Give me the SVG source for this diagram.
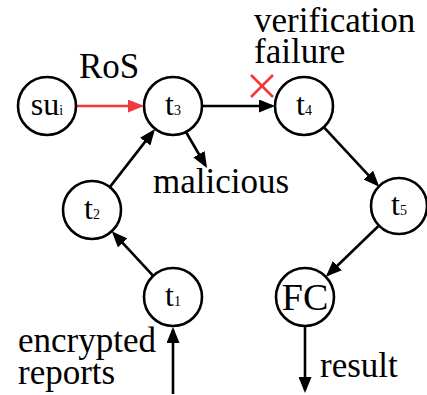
<svg xmlns="http://www.w3.org/2000/svg" width="427" height="395" viewBox="0 0 427 395">
<style>
.node circle{fill:#fff;stroke:#000;stroke-width:2.6}
.lbl{font-family:'Liberation Serif','Times New Roman',serif;font-size:32px;fill:#000}
.sub{font-size:14px}
.txt{font-family:'Liberation Serif','Times New Roman',serif;font-size:35px;fill:#000}
.edge{stroke:#000;stroke-width:2.6;fill:none;marker-end:url(#ah)}
.red{stroke:#ee3a3a;marker-end:url(#ahr)}
</style>
<defs>
<marker id="ah" markerUnits="userSpaceOnUse" markerWidth="16" markerHeight="13" refX="13" refY="6.5" orient="auto"><path d="M0,0 L16,6.5 L0,13 z" fill="#000"/></marker>
<marker id="ahr" markerUnits="userSpaceOnUse" markerWidth="16" markerHeight="13" refX="13" refY="6.5" orient="auto"><path d="M0,0 L16,6.5 L0,13 z" fill="#ee3a3a"/></marker>
</defs>
<rect width="427" height="395" fill="#fff"/>
<g id="connectors">
<line class="edge red" x1="76" y1="106" x2="141" y2="106"/>
<line class="edge" x1="202" y1="106" x2="272" y2="106"/>
<line class="edge" x1="186" y1="132" x2="205.5" y2="165.5"/>
<line class="edge" x1="109.8" y1="187.1" x2="153.2" y2="131.4"/>
<line class="edge" x1="153.2" y1="275.8" x2="113.8" y2="233.4"/>
<line class="edge" x1="323.8" y1="127.2" x2="377.2" y2="184.6"/>
<line class="edge" x1="378.2" y1="226.2" x2="328" y2="274.7"/>
<line class="edge" x1="173" y1="394" x2="173" y2="330"/>
<line class="edge" x1="305" y1="327" x2="305" y2="390"/>
<path d="M251,75 L273,97 M273,75 L251,97" stroke="#ee3a3a" stroke-width="2.6" fill="none"/>
</g>
<g id="su_i" class="node"><circle cx="47" cy="106" r="29"/><text class="lbl" x="47" y="115" text-anchor="middle">su<tspan class="sub">i</tspan></text></g>
<g id="t3" class="node"><circle cx="173" cy="106" r="29"/><text class="lbl" x="173" y="115" text-anchor="middle">t<tspan class="sub">3</tspan></text></g>
<g id="t4" class="node"><circle cx="304" cy="106" r="29"/><text class="lbl" x="304" y="115" text-anchor="middle">t<tspan class="sub">4</tspan></text></g>
<g id="t2" class="node"><circle cx="92" cy="210" r="29"/><text class="lbl" x="92" y="219" text-anchor="middle">t<tspan class="sub">2</tspan></text></g>
<g id="t5" class="node"><circle cx="399" cy="206" r="28"/><text class="lbl" x="399" y="215" text-anchor="middle">t<tspan class="sub">5</tspan></text></g>
<g id="t1" class="node"><circle cx="173" cy="297" r="29"/><text class="lbl" x="173" y="306" text-anchor="middle">t<tspan class="sub">1</tspan></text></g>
<g id="FC" class="node"><circle cx="305" cy="297" r="29"/><text class="lbl" x="305" y="310" text-anchor="middle" style="font-size:38px">FC</text></g>
<g id="labels">
<text class="txt" x="79" y="78">RoS</text>
<text class="txt" x="254" y="32">verification<tspan x="254" dy="31">failure</tspan></text>
<text class="txt" x="153" y="193">malicious</text>
<text class="txt" x="18" y="352">encrypted<tspan x="18" dy="32">reports</tspan></text>
<text class="txt" x="320" y="377">result</text>
</g>
</svg>
